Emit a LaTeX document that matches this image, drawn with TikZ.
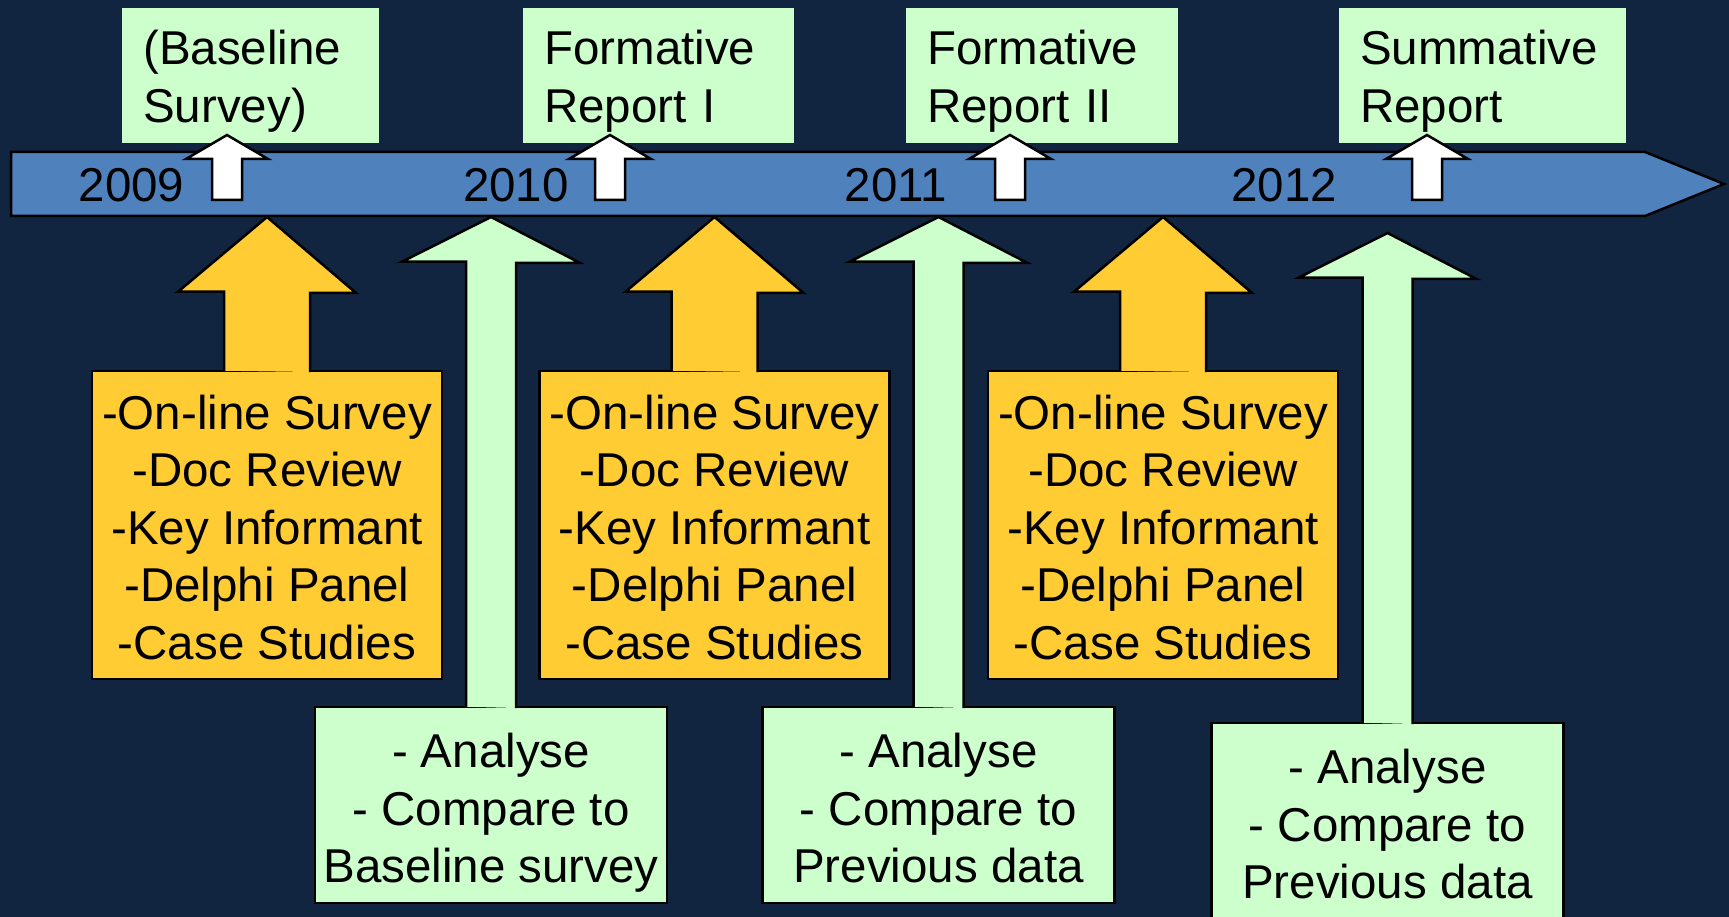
\documentclass[tikz,border=0pt]{standalone}
\usepackage{fontspec}
\setmainfont{Liberation Sans}
\usepackage{tikz}
\usepackage{xcolor}

\definecolor{navy}{RGB}{17,36,64}
\definecolor{barblue}{RGB}{79,129,189}
\definecolor{boxyellow}{RGB}{255,204,51}
\definecolor{boxgreen}{RGB}{204,255,204}

\tikzset{
	big/.style={font=\fontsize{47.5}{57.5}\selectfont},
	report/.style={big, fill=boxgreen, anchor=north west, align=left, inner xsep=21pt, minimum height=135pt, text height=36pt, text depth=58pt},
	method/.style={big, fill=boxyellow, draw=black, line width=2.5pt, align=center, minimum width=350pt, minimum height=308pt, text height=268pt, text depth=0pt},
	analysis/.style={big, fill=boxgreen, draw=black, line width=2.5pt, align=center, minimum width=352pt, minimum height=196pt, text height=155pt, text depth=0pt},
	upY/.style={fill=boxyellow, draw=black, line width=2.5pt},
	upG/.style={fill=boxgreen, draw=black, line width=2.5pt},
	upW/.style={fill=white, draw=black, line width=2.5pt},
	year/.style={big, anchor=base},
}

\begin{document}
\begin{tikzpicture}[x=1pt, y=-1pt]
			\clip (0,0) rectangle (1729,917);
			\fill[navy] (0,0) rectangle (1729,917);
			\node[report, text width=215pt] (base) at (122,8) {(Baseline\\Survey)};
			\node[report, text width=229pt] (rep1) at (523,8) {Formative\\Report I};
			\node[report, text width=230pt] (rep2) at (906,8) {Formative\\Report II};
			\node[report, text width=245pt] (summ) at (1339,8) {Summative\\Report};
			\filldraw[fill=barblue, draw=black, line width=2.5pt] (11,152) -- (1645,152) -- (1724,184) -- (1645,216) -- (11,216) -- cycle;
			\node[year] (y09) at (131.5,202) {2009};
			\node[year] (y10) at (516,202) {2010};
			\node[year] (y11) at (896,202) {2011};
			\node[year] (y12) at (1284,202) {2012};
			\coordinate (w1) at (227,135);
			\coordinate (w2) at (610,135);
			\coordinate (w3) at (1010,135);
			\coordinate (w4) at (1427,135);
			\filldraw[upW] (w1) -- ++(41,24) -- ++(-26,0) -- ++(0,41) -- ++(-30,0) -- ++(0,-41) -- ++(-26,0) -- cycle;
			\filldraw[upW] (w2) -- ++(41,24) -- ++(-26,0) -- ++(0,41) -- ++(-30,0) -- ++(0,-41) -- ++(-26,0) -- cycle;
			\filldraw[upW] (w3) -- ++(41,24) -- ++(-26,0) -- ++(0,41) -- ++(-30,0) -- ++(0,-41) -- ++(-26,0) -- cycle;
			\filldraw[upW] (w4) -- ++(41,24) -- ++(-26,0) -- ++(0,41) -- ++(-30,0) -- ++(0,-41) -- ++(-26,0) -- cycle;
			\node[method] (meth1) at (267,525) {-On-line Survey\\-Doc Review\\-Key Informant\\-Delphi Panel\\-Case Studies};
			\node[method] (meth2) at (714.5,525) {-On-line Survey\\-Doc Review\\-Key Informant\\-Delphi Panel\\-Case Studies};
			\node[method] (meth3) at (1163,525) {-On-line Survey\\-Doc Review\\-Key Informant\\-Delphi Panel\\-Case Studies};
			\coordinate (t1) at (267,217);
			\coordinate (t2) at (714.5,217);
			\coordinate (t3) at (1163,217);
			\filldraw[upY] ([shift={(-43,1)}]meth1.north) -- ++(0,-79) -- ++(-46,0) -- (t1) -- ++(89,76) -- ++(-46,0) -- ++(0,79);
			\filldraw[upY] ([shift={(-43,1)}]meth2.north) -- ++(0,-79) -- ++(-46,0) -- (t2) -- ++(89,76) -- ++(-46,0) -- ++(0,79);
			\filldraw[upY] ([shift={(-43,1)}]meth3.north) -- ++(0,-79) -- ++(-46,0) -- (t3) -- ++(89,76) -- ++(-46,0) -- ++(0,79);
			\node[analysis] (ana1) at (491,805) {- Analyse\\- Compare to\\Baseline survey};
			\node[analysis] (ana2) at (938.5,805) {- Analyse\\- Compare to\\Previous data};
			\node[analysis] (ana3) at (1387.5,821) {- Analyse\\- Compare to\\Previous data};
			\coordinate (g1) at (491,217);
			\coordinate (g2) at (938.5,217);
			\coordinate (g3) at (1387.5,233);
			\filldraw[upG] ([shift={(-25,1)}]ana1.north) -- ++(0,-445) -- ++(-64,0) -- (g1) -- ++(89,46) -- ++(-64,0) -- ++(0,445);
			\filldraw[upG] ([shift={(-25,1)}]ana2.north) -- ++(0,-445) -- ++(-64,0) -- (g2) -- ++(89,46) -- ++(-64,0) -- ++(0,445);
			\filldraw[upG] ([shift={(-25,1)}]ana3.north) -- ++(0,-445) -- ++(-64,0) -- (g3) -- ++(89,46) -- ++(-64,0) -- ++(0,445);
		\end{tikzpicture}
\end{document}
